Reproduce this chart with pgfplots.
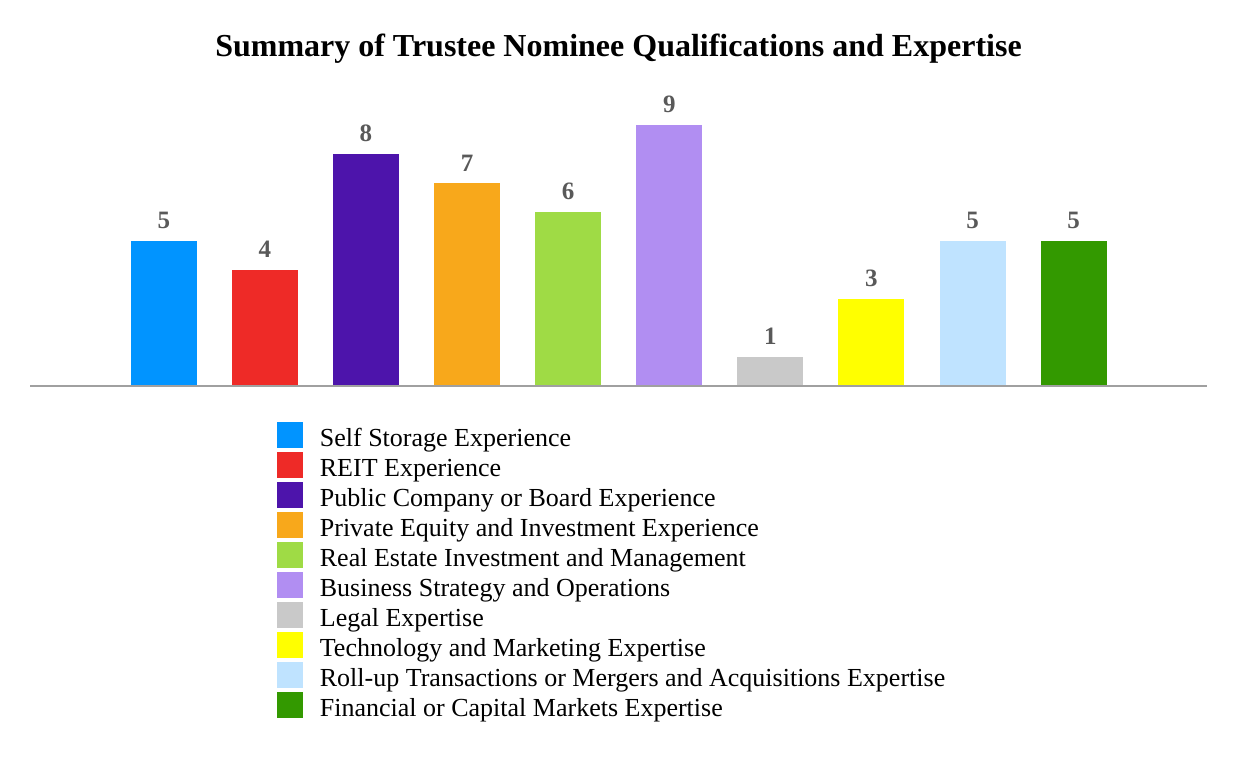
\documentclass[border=0pt]{standalone}
\usepackage{pgfplots}
\pgfplotsset{compat=1.18}
\usepackage{fontspec}
\setmainfont{Liberation Serif}
\definecolor{c1}{HTML}{0194FF}
\definecolor{c2}{HTML}{EE2A27}
\definecolor{c3}{HTML}{4D14AB}
\definecolor{c4}{HTML}{F8A81B}
\definecolor{c5}{HTML}{9FDB45}
\definecolor{c6}{HTML}{B18EF2}
\definecolor{c7}{HTML}{C9C9C9}
\definecolor{c8}{HTML}{FFFF00}
\definecolor{c9}{HTML}{BFE3FF}
\definecolor{c10}{HTML}{339900}
\definecolor{labelgray}{HTML}{595959}
\definecolor{axisgray}{HTML}{A0A0A0}
\begin{document}
\begin{tikzpicture}
\begin{axis}[
  scale only axis,
  width=588.2pt, height=144.8pt,
  xmin=-1.32, xmax=10.316,
  ymin=0, ymax=10,
  xtick=\empty, ytick=\empty,
  axis line style={draw=none},
  clip=false,
  /pgf/number format/assume math mode=true,
  ybar, bar shift=0pt, bar width=33pt,
  nodes near coords,
  every node near coord/.append style={font=\bfseries\fontsize{12.5}{14}\selectfont, text=labelgray, anchor=south, inner sep=0pt, yshift=5.9pt},
  title={Summary of Trustee Nominee Qualifications and Expertise},
  every axis title/.style={at={(0.5,1)}, anchor=base, yshift=20pt, font=\bfseries\fontsize{16}{19}\selectfont},
  legend image code/.code={\fill[#1,draw=none] (0pt,-6.35pt) rectangle (12.7pt,6.35pt);},
  legend cell align=left,
  legend style={at={(0,0)}, anchor=north west, xshift=123.5pt, yshift=-17pt,
    draw=none, fill=none, inner sep=0pt, outer sep=0pt, row sep=0pt,
    font=\fontsize{13}{15}\selectfont,
    nodes={inner sep=0pt, text height=13.15pt, text depth=1.85pt},
    /tikz/every odd column/.append style={column sep=8.6pt}},
]
\addplot[fill=c1, draw=none] coordinates {(0,5)};
\addplot[fill=c2, draw=none] coordinates {(1,4)};
\addplot[fill=c3, draw=none] coordinates {(2,8)};
\addplot[fill=c4, draw=none] coordinates {(3,7)};
\addplot[fill=c5, draw=none] coordinates {(4,6)};
\addplot[fill=c6, draw=none] coordinates {(5,9)};
\addplot[fill=c7, draw=none] coordinates {(6,1)};
\addplot[fill=c8, draw=none] coordinates {(7,3)};
\addplot[fill=c9, draw=none] coordinates {(8,5)};
\addplot[fill=c10, draw=none] coordinates {(9,5)};
\legend{Self Storage Experience, REIT Experience, Public Company or Board Experience, Private Equity and Investment Experience, Real Estate Investment and Management, Business Strategy and Operations, Legal Expertise, Technology and Marketing Expertise, Roll-up Transactions or Mergers and Acquisitions Expertise, Financial or Capital Markets Expertise}
\draw[line width=0.75pt, color=axisgray] (rel axis cs:0,0) -- (rel axis cs:1,0);
\coordinate (bl) at (rel axis cs:0,0);
\coordinate (tr) at (rel axis cs:1,1);
\end{axis}
\useasboundingbox ([xshift=-15.15pt,yshift=-187pt]bl) rectangle ([xshift=14.65pt,yshift=48.2pt]tr);
\end{tikzpicture}
\end{document}
